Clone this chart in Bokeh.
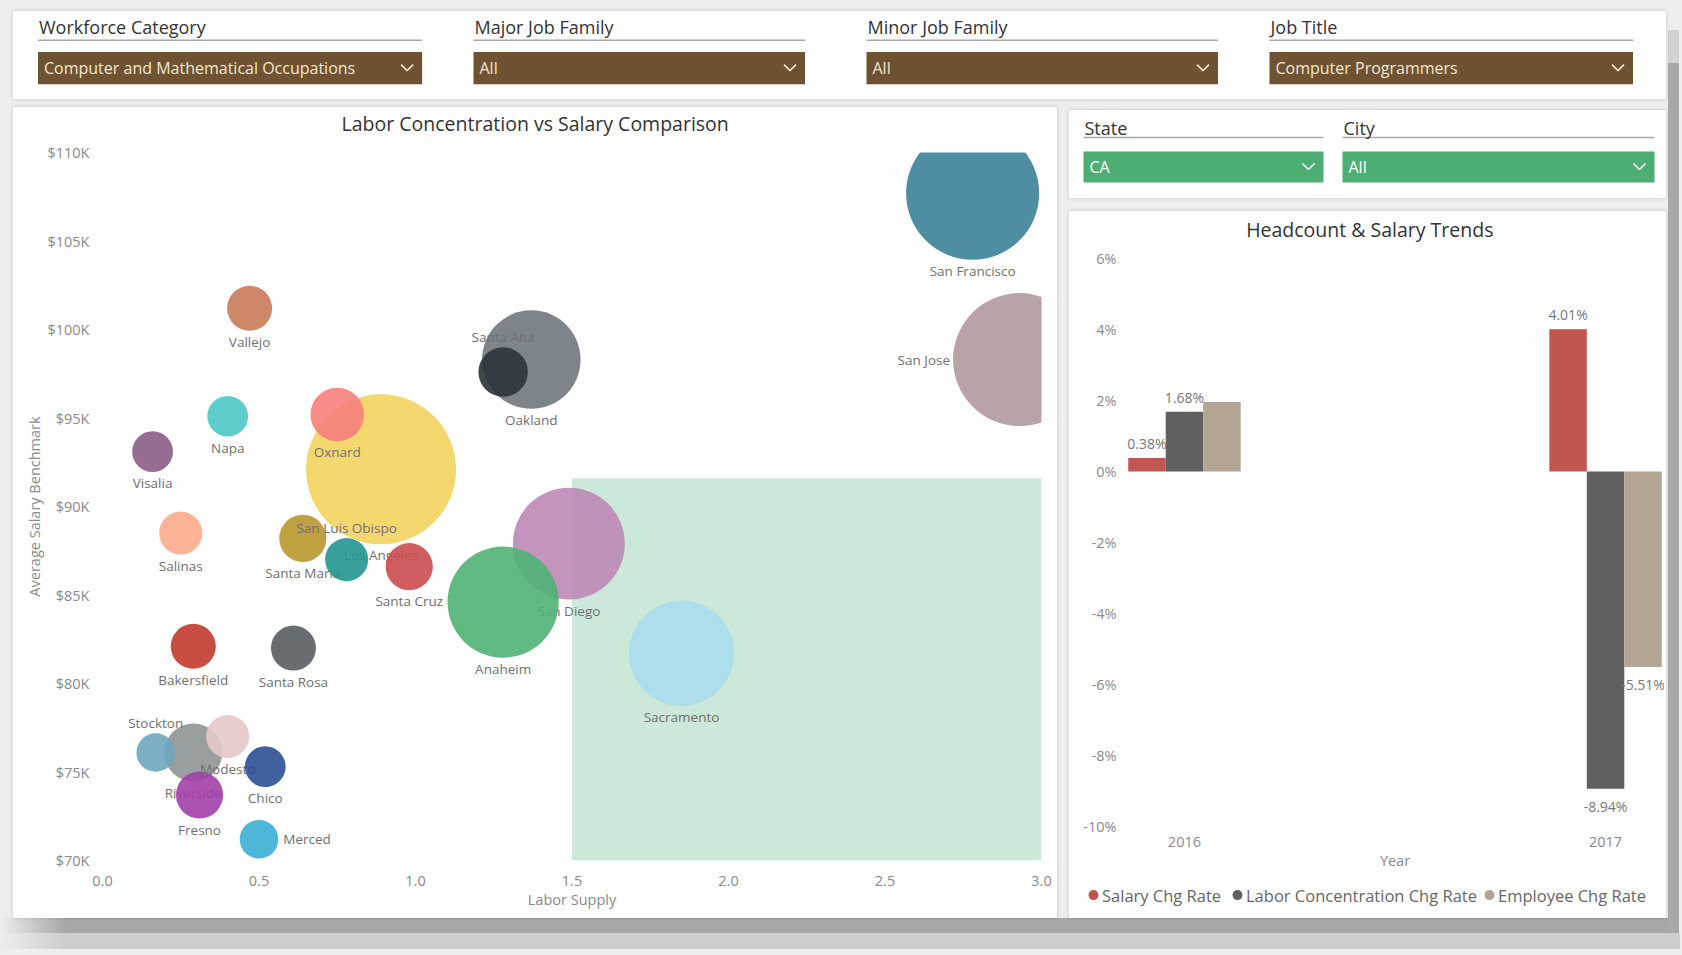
import math
from bokeh.plotting import figure
from bokeh.models import (ColumnDataSource, Range1d, FixedTicker, PrintfTickFormatter,
                          BoxAnnotation, Spacer)
from bokeh.layouts import row, column
from bokeh.transform import dodge
from bokeh.core.properties import value
from bokeh.embed import file_html
from bokeh.resources import INLINE

# ---------------- data ----------------
slicer_titles = ["Workforce Category", "Major Job Family", "Minor Job Family", "Job Title"]
slicer_values = ["Computer and Mathematical Occupations", "All", "All", "Computer Programmers"]
geo_titles = ["State", "City"]
geo_values = ["CA", "All"]

scatter_title = "Labor Concentration vs Salary Comparison"
bar_title = "Headcount & Salary Trends"

cities = ["San Francisco", "San Jose", "Oakland", "Santa Ana", "Vallejo", "Napa", "Visalia",
          "Oxnard", "Los Angeles", "Salinas", "Santa Maria", "San Luis Obispo", "Santa Cruz",
          "San Diego", "Anaheim", "Sacramento", "Bakersfield", "Santa Rosa", "Stockton",
          "Riverside", "Modesto", "Chico", "Fresno", "Merced"]
labor_supply = [2.78, 2.93, 1.37, 1.28, 0.47, 0.40, 0.16, 0.75, 0.89, 0.25, 0.64, 0.78, 0.98,
                1.49, 1.28, 1.85, 0.29, 0.61, 0.17, 0.29, 0.40, 0.52, 0.31, 0.50]
avg_salary_k = [107.7, 98.3, 98.3, 97.6, 101.2, 95.1, 93.1, 95.2, 92.1, 88.5, 88.2, 87.0, 86.6,
                87.9, 84.6, 81.7, 82.1, 82.0, 76.1, 76.1, 77.0, 75.3, 73.7, 71.2]
employment = [6300, 6300, 3450, 870, 720, 590, 590, 1020, 8000, 660, 790, 660, 790,
              4450, 4400, 3940, 720, 720, 530, 1200, 660, 590, 790, 530]
city_colors = ["#3C8198", "#B09A9C", "#6F777D", "#2D333A", "#C97A57", "#4CC7C4", "#8A5C86",
               "#F6807C", "#F3D45E", "#FDAB8B", "#B8972C", "#249590", "#CB4C50",
               "#BE88B6", "#4FB274", "#A8DDEE", "#C33B2E", "#575D61", "#6EA6BE",
               "#8E9395", "#E6C8C9", "#2C4F96", "#A33FA8", "#3BAED4"]

quadrant_supply_min = 1.5
quadrant_salary_max = 91.6

salary_ticks = [70, 75, 80, 85, 90, 95, 100, 105, 110]
supply_ticks = [0.0, 0.5, 1.0, 1.5, 2.0, 2.5, 3.0]

years = [2016, 2017]
series_names = ["Salary Chg Rate", "Labor Concentration Chg Rate", "Employee Chg Rate"]
salary_chg_rate = [0.38, 4.01]
labor_conc_chg_rate = [1.68, -8.94]
employee_chg_rate = [1.96, -5.51]
pct_ticks = [-10, -8, -6, -4, -2, 0, 2, 4, 6]

# ---------------- style ----------------
FONT = "Open Sans"
series_colors = ["#C0574F", "#606060", "#B3A594"]
label_side = {"San Jose": "left", "Merced": "right", "Stockton": "above",
              "San Luis Obispo": "above", "Santa Ana": "above"}
hidden_bar_labels = {("Employee Chg Rate", 2016)}
MAX_D = 150.0
SHADOW = {"box-shadow": "0 0 3px 1px rgba(0,0,0,0.10)", "background-color": "#FFFFFF"}
TICK_FS = "14.5px"
AXT_FS = "14.5px"


def panel_fig(width, height, styles=None):
    f = figure(width=width, height=height, x_range=Range1d(0, width), y_range=Range1d(height, 0),
               output_backend="svg", toolbar_location=None, min_border=0,
               x_axis_location=None, y_axis_location=None, frame_align=False,
               background_fill_color="white", border_fill_color="white",
               styles=styles if styles is not None else {})
    f.grid.visible = False
    f.outline_line_color = None
    return f


def draw_slicers(f, lefts, rights, titles, values, title_mid, line_y, box_top, box_bot,
                 fill, vcolor):
    mid = (box_top + box_bot) / 2.0
    f.quad(left=lefts, right=rights, top=box_top, bottom=box_bot, fill_color=fill, line_color=None)
    f.segment(x0=lefts, x1=rights, y0=line_y, y1=line_y, line_color="#A8A8A8", line_width=1.6)
    f.text(x=[l + 1 for l in lefts], y=[title_mid] * len(lefts), text=titles,
           text_font=value(FONT), text_font_size="18px", text_color="#333333",
           text_baseline="middle", text_align="left")
    f.text(x=[l + 6 for l in lefts], y=[mid] * len(lefts), text=values,
           text_font=value(FONT), text_font_size="16px", text_color=vcolor,
           text_baseline="middle", text_align="left")
    f.multi_line(xs=[[r - 21, r - 15, r - 9] for r in rights],
                 ys=[[mid - 3.5, mid + 2.5, mid - 3.5] for _ in rights],
                 line_color=vcolor, line_width=1.5)


def title_fig(width, height, text, cx, cy):
    f = panel_fig(width, height)
    f.text(x=[cx], y=[cy], text=[text], text_font=value(FONT), text_font_size="19.5px",
           text_color="#333333", text_align="center", text_baseline="middle")
    return f


def style_axes(ax_list):
    for ax in ax_list:
        ax.axis_line_color = None
        ax.major_tick_line_color = None
        ax.minor_tick_line_color = None
        ax.major_tick_out = 0
        ax.major_tick_in = 0
        ax.major_label_text_font = FONT
        ax.major_label_text_font_size = TICK_FS
        ax.major_label_text_color = "#8A8A8A"
        ax.axis_label_text_font = FONT
        ax.axis_label_text_font_size = AXT_FS
        ax.axis_label_text_color = "#8A8A8A"
        ax.axis_label_text_font_style = "normal"


# ---------------- top slicers ----------------
top_panel = panel_fig(1653, 88, SHADOW)
draw_slicers(top_panel, [24.5, 460, 853, 1256], [408.6, 791.5, 1204.5, 1619.5],
             slicer_titles, slicer_values, 15.3, 28.7, 40.5, 72.7, "#6E5232", "#F3E7CF")

# ---------------- geo slicers ----------------
geo_panel = panel_fig(597, 88, SHADOW)
draw_slicers(geo_panel, [14, 273], [254, 585], geo_titles, geo_values,
             17.0, 27.0, 41.0, 72.0, "#4DAE74", "#FFFFFF")

# ---------------- scatter ----------------
sc_title = title_fig(1044, 35, scatter_title, 521.7, 16.0)
sc = figure(width=1044, height=776, x_range=Range1d(0, 3.0), y_range=Range1d(70, 110),
            output_backend="svg", toolbar_location=None, frame_align=False,
            min_border_left=89, min_border_right=16, min_border_top=10, min_border_bottom=58,
            background_fill_color="white", border_fill_color="white")
sc.grid.visible = False
sc.outline_line_color = None

sc.add_layout(BoxAnnotation(left=quadrant_supply_min, top=quadrant_salary_max,
                            fill_color="#CCE8D8", fill_alpha=1.0, line_color=None,
                            level="underlay"))

sc.xaxis.ticker = FixedTicker(ticks=supply_ticks)
sc.xaxis.formatter = PrintfTickFormatter(format="%.1f")
sc.yaxis.ticker = FixedTicker(ticks=salary_ticks)
sc.yaxis.formatter = PrintfTickFormatter(format="$%dK")
sc.xaxis.axis_label = "Labor Supply"
sc.yaxis.axis_label = "Average Salary Benchmark"
style_axes([sc.xaxis[0], sc.yaxis[0]])
sc.xaxis.major_label_standoff = 15
sc.xaxis.axis_label_standoff = 1
sc.yaxis.major_label_standoff = 13
sc.yaxis.axis_label_standoff = 0

order = sorted(range(len(cities)), key=lambda i: -employment[i])
max_emp = max(employment)
for i in order:
    d = MAX_D * math.sqrt(employment[i] / max_emp)
    src = ColumnDataSource(dict(x=[labor_supply[i]], y=[avg_salary_k[i]], name=[cities[i]]))
    sc.scatter("x", "y", size=d, source=src, fill_color=city_colors[i], fill_alpha=0.9,
               line_color=None)
    side = label_side.get(cities[i], "below")
    kw = dict(text_align="center", text_baseline="top", x_offset=0, y_offset=d / 2 + 2)
    if side == "above":
        kw = dict(text_align="center", text_baseline="bottom", x_offset=0, y_offset=-(d / 2 + 1))
    elif side == "left":
        kw = dict(text_align="right", text_baseline="middle", x_offset=-(d / 2 + 3), y_offset=0)
    elif side == "right":
        kw = dict(text_align="left", text_baseline="middle", x_offset=d / 2 + 5, y_offset=0)
    sc.text("x", "y", text="name", source=src, text_font=value(FONT), text_font_size="13.5px",
            text_color="#707070", **kw)

# ---------------- bar chart ----------------
bar_title_fig = title_fig(597, 37, bar_title, 300.3, 17.5)
bar = figure(width=597, height=625, x_range=Range1d(2016 - 0.14, 2017 + 0.14),
             y_range=Range1d(-10, 6), output_backend="svg", toolbar_location=None,
             frame_align=False,
             min_border_left=56, min_border_right=2, min_border_top=10, min_border_bottom=47,
             background_fill_color="white", border_fill_color="white")
bar.grid.visible = False
bar.outline_line_color = None

bar.xaxis.ticker = FixedTicker(ticks=years)
bar.xaxis.formatter = PrintfTickFormatter(format="%d")
bar.yaxis.ticker = FixedTicker(ticks=pct_ticks)
bar.yaxis.formatter = PrintfTickFormatter(format="%d%%")
bar.xaxis.axis_label = "Year"
style_axes([bar.xaxis[0], bar.yaxis[0]])
bar.xaxis.major_label_standoff = 10
bar.xaxis.axis_label_standoff = 1
bar.yaxis.major_label_standoff = 9

BW = 0.089
offsets = [-BW, 0.0, BW]
series_values = [salary_chg_rate, labor_conc_chg_rate, employee_chg_rate]
bar_src = ColumnDataSource(dict(year=years, s0=salary_chg_rate, s1=labor_conc_chg_rate,
                                s2=employee_chg_rate))
for k, col in enumerate(["s0", "s1", "s2"]):
    bar.vbar(x=dodge("year", offsets[k], range=bar.x_range), top=col, bottom=0, width=BW,
             source=bar_src, fill_color=series_colors[k], line_color=None)

pos = dict(x=[], y=[], t=[])
neg = dict(x=[], y=[], t=[])
for k, vals in enumerate(series_values):
    for yr, v in zip(years, vals):
        if (series_names[k], yr) in hidden_bar_labels:
            continue
        tgt = pos if v >= 0 else neg
        tgt["x"].append(yr + offsets[k])
        tgt["y"].append(v)
        tgt["t"].append(f"{v:.2f}%")
bar.text("x", "y", text="t", source=ColumnDataSource(pos), text_align="center",
         text_baseline="bottom", y_offset=-5, text_font=value(FONT), text_font_size="14px",
         text_color="#777777")
bar.text("x", "y", text="t", source=ColumnDataSource(neg), text_align="center",
         text_baseline="top", y_offset=8, text_font=value(FONT), text_font_size="14px",
         text_color="#777777")

# legend strip at the bottom of the bar panel
leg = panel_fig(597, 45)
leg_dot_x = [24, 168, 420]
leg_src = ColumnDataSource(dict(dx=leg_dot_x, tx=[x + 8.5 for x in leg_dot_x],
                                y=[21.6] * 3, name=series_names, color=series_colors))
leg.scatter("dx", "y", size=10, source=leg_src, fill_color="color", line_color=None)
leg.text("tx", "y", text="name", source=leg_src, text_font=value(FONT), text_font_size="16.5px",
         text_color="#666666", text_baseline="middle", text_align="left")

# ---------------- page ----------------
bg_css = {
    "background-color": "#EEEEEE",
    "background-image": ("linear-gradient(to right, #EEEEEE 0px, #A7A7A7 66px), "
                         "linear-gradient(to right, #EEEEEE 0px, #CDCDCD 66px), "
                         "linear-gradient(#A8A8A8, #A8A8A8), "
                         "linear-gradient(#D2D2D2, #D2D2D2)"),
    "background-position": "0px 918px, 0px 933px, 1668px 63px, 1668px 30px",
    "background-size": "1668px 15px, 1680px 16px, 11px 870px, 11px 33px",
    "background-repeat": "no-repeat",
}

page = column(
    Spacer(width=1682, height=11),
    row(Spacer(width=13, height=88), top_panel),
    Spacer(width=1682, height=8),
    row(Spacer(width=13, height=811), column(sc_title, sc, styles=SHADOW),
        Spacer(width=12, height=811),
        column(Spacer(width=597, height=3), geo_panel, Spacer(width=597, height=13),
               column(bar_title_fig, bar, leg, styles=SHADOW))),
    Spacer(width=1682, height=37),
    width=1682, height=955, styles=bg_css)

open("out.html", "w").write(file_html(page, INLINE))
